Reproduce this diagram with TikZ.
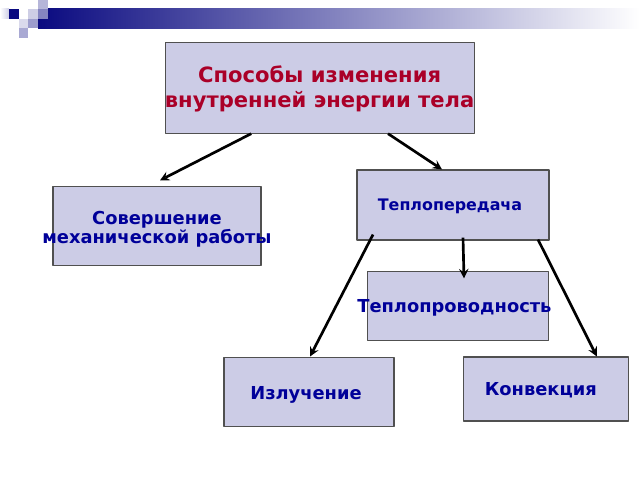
\documentclass[tikz,border=0pt]{standalone}
\usepackage{fontspec}
\setmainfont{DejaVu Sans}
\usepackage{tikz}
\usetikzlibrary{calc}
\usetikzlibrary{arrows}
\definecolor{boxfill}{RGB}{204,204,230}
\definecolor{boxline}{RGB}{80,80,80}
\definecolor{titlered}{RGB}{170,0,40}
\definecolor{textblue}{RGB}{0,0,153}
\definecolor{navy}{RGB}{10,10,128}
\tikzset{
  box/.style={draw=boxline, fill=boxfill, line width=0.8pt, inner sep=0pt},
  boxtext/.style={text=textblue, align=center, inner sep=0pt,
    font=\bfseries\fontsize{12.7}{13.6}\selectfont},
  link/.style={->, line width=1.9pt},
}

\begin{document}
\begin{tikzpicture}[line join=round, >=stealth]
  \useasboundingbox (0, 0) rectangle (16, 12);
  %--- Header bar
    \shade[left color=navy, right color=white] (0.95, 11.275) rectangle (16, 11.775);
    \shade[left color=white, right color=navy!20] (0, 11.525) rectangle (0.225, 11.775);
    \fill[navy] (0.225, 11.525) rectangle (0.475, 11.775);
    \fill[navy!20] (0.7, 11.525) rectangle (0.95, 11.775);
    \fill[navy!30] (0.95, 11.775) rectangle (1.2, 12);
    \fill[navy!50] (0.95, 11.525) rectangle (1.2, 11.775);
    \fill[navy!15] (0.475, 11.3) rectangle (0.7, 11.525);
    \fill[navy!40] (0.7, 11.3) rectangle (0.95, 11.525);
    \fill[navy!35] (0.475, 11.05) rectangle (0.7, 11.3);
  %--- Boxes
    \node[box, minimum width=7.725cm, minimum height=2.275cm] (title) at (7.99, 9.81) {};
    \node[box, minimum width=5.2cm, minimum height=1.975cm] (work) at (3.925, 6.34) {};
    \node[box, minimum width=4.8cm, minimum height=1.75cm] (heat) at (11.325, 6.875) {};
    \node[box, minimum width=4.525cm, minimum height=1.725cm] (cond) at (11.46, 4.34) {};
    \node[box, minimum width=4.25cm, minimum height=1.725cm] (rad) at (7.725, 2.21) {};
    \node[box, minimum width=4.125cm, minimum height=1.6cm] (conv) at (13.66, 2.275) {};
  %--- Texts
    \node[boxtext, text=titlered, font=\bfseries\fontsize{15}{17.8}\selectfont] (titletext) at ($(title)+(0, -0.04)$)
      {Способы изменения\\внутренней энергии тела};
    \node[boxtext] (worktext) at ($(work)+(0, -0.08)$) {Совершение\\механической работы};
    \node[boxtext, font=\bfseries\fontsize{11.3}{13}\selectfont] (heattext) at ($(heat)+(-0.075, -0.025)$) {Теплопередача};
    \node[boxtext] (condtext) at ($(cond)+(-0.1, -0.04)$) {Теплопроводность};
    \node[boxtext] (radtext) at ($(rad)+(-0.075, -0.09)$) {Излучение};
    \node[boxtext] (convtext) at ($(conv)+(-0.14, -0.02)$) {Конвекция};
  %--- Arrows
    \draw[link] ([xshift=-1.71cm]title.south) -- ([xshift=0.075cm, yshift=0.15cm]work.north);
    \draw[link] ([xshift=1.71cm]title.south) -- ([xshift=-0.275cm]heat.north);
    \draw[link] ([xshift=-2cm, yshift=0.15cm]heat.south) -- ([xshift=0.025cm]rad.north);
    \draw[link] ([xshift=0.25cm, yshift=0.075cm]heat.south) -- ([xshift=0.14cm, yshift=-0.175cm]cond.north);
    \draw[link] ([xshift=2.125cm, yshift=0.025cm]heat.south) -- ([xshift=1.26cm]conv.north);
\end{tikzpicture}
\end{document}
